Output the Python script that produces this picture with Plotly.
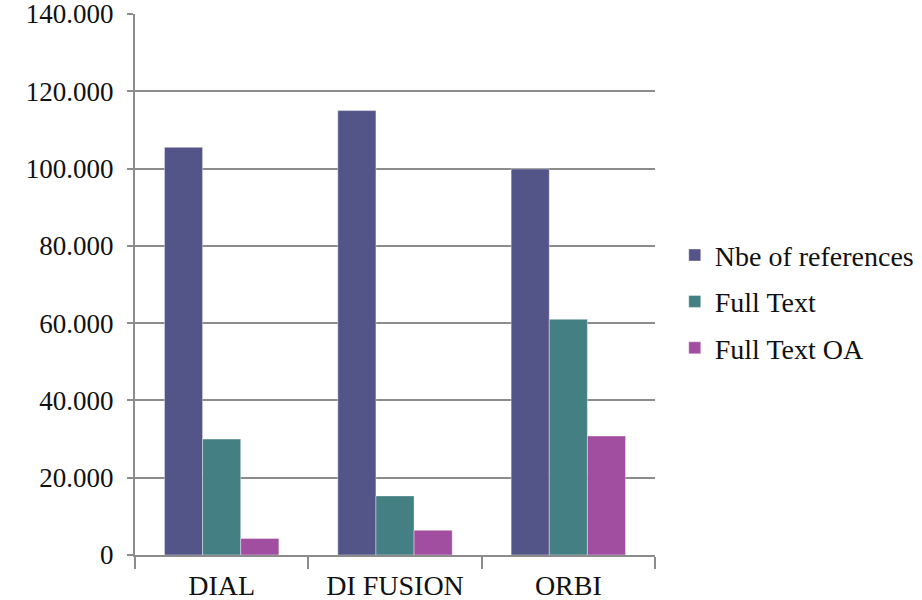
import plotly.graph_objects as go

categories = ["DIAL", "DI FUSION", "ORBI"]
series_names = ["Nbe of references", "Full Text", "Full Text OA"]
nbe_refs = [105500, 115000, 99900]
full_text = [30000, 15300, 61000]
full_text_oa = [4300, 6400, 30800]
colors = ["#535487", "#437F83", "#A14DA0"]
tick_vals = [0, 20000, 40000, 60000, 80000, 100000, 120000, 140000]
tick_text = ["0", "20.000", "40.000", "60.000", "80.000", "100.000", "120.000", "140.000"]

font_family = "Liberation Serif, DejaVu Serif, serif"

fig = go.Figure()
for i, (name, vals) in enumerate(zip(series_names, [nbe_refs, full_text, full_text_oa])):
    fig.add_trace(go.Bar(
        x=categories, y=vals, name=name,
        marker=dict(color=colors[i], line=dict(color="rgba(255,255,255,0.5)", width=0.8)),
        legendgroup=f"g{i}",
    ))

fig.update_layout(
    width=922, height=600,
    margin=dict(l=135, r=267, t=14, b=45, autoexpand=False),
    paper_bgcolor="white", plot_bgcolor="white",
    barmode="group", bargap=0.34, bargroupgap=0,
    font=dict(family=font_family, color="#111111"),
    showlegend=True,
    legend=dict(
        x=1.038, y=0.468, xanchor="left", yanchor="middle",
        font=dict(size=28, family=font_family, color="#111111"),
        tracegroupgap=7, itemwidth=30,
        bgcolor="rgba(0,0,0,0)",
    ),
    xaxis=dict(
        showline=True, linecolor="#8c8c8c", linewidth=2,
        ticks="outside", ticklen=12, tickcolor="#8c8c8c", tickwidth=1.5,
        tickson="boundaries", automargin=False,
        tickfont=dict(size=28, family=font_family, color="#111111"),
        ticklabelstandoff=4,
        showgrid=False,
    ),
    yaxis=dict(
        range=[0, 140000], automargin=False,
        tickvals=tick_vals, ticktext=tick_text,
        showline=True, linecolor="#8c8c8c", linewidth=2,
        ticks="outside", ticklen=6, tickcolor="#8c8c8c", tickwidth=1.5,
        showgrid=True, gridcolor="#8c8c8c", gridwidth=1.5,
        zeroline=False,
        ticklabeloverflow="allow",
        tickfont=dict(size=27, family=font_family, color="#111111"),
        ticklabelstandoff=8,
    ),
)

fig.write_html("out.html", config={"displayModeBar": False},
               post_script="document.body.style.margin='0';")
